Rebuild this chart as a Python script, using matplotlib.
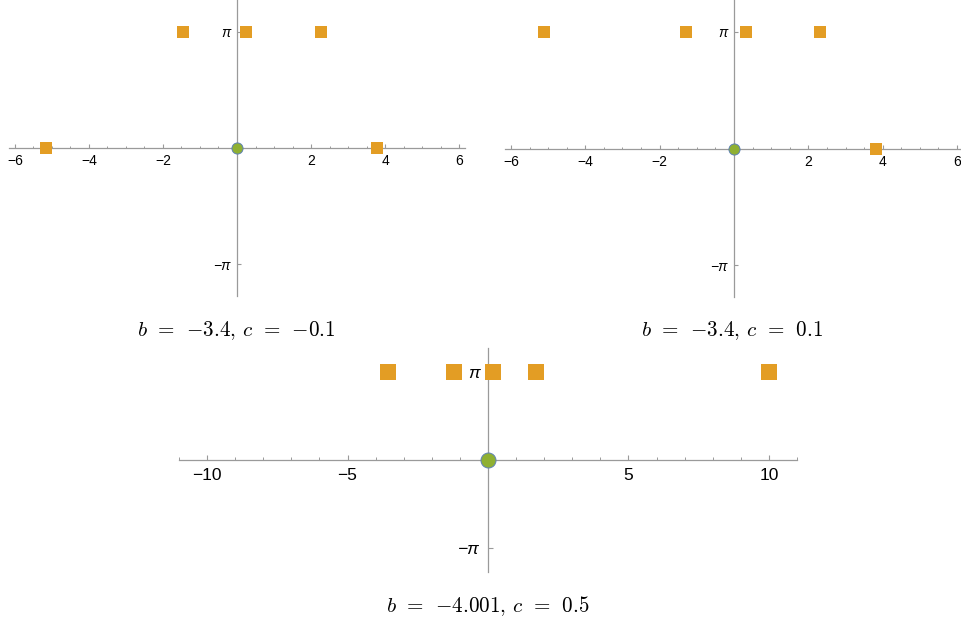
import numpy as np
import matplotlib
matplotlib.use("Agg")
import matplotlib.pyplot as plt
from matplotlib.ticker import MultipleLocator

p1_x = [-5.17, -1.46, 0.24, 2.27, 3.78]
p1_y = [0, np.pi, np.pi, np.pi, 0]
p2_x = [-5.11, -1.30, 0.32, 2.32, 3.83]
p2_y = [np.pi, np.pi, np.pi, np.pi, 0]
p3_x = [-3.56, -1.21, 0.18, 1.70, 10.0]
p3_y = [np.pi, np.pi, np.pi, np.pi, np.pi]
origin_x = [0]
origin_y = [0]

titles = [r"$b\;\,=\;\,{-}3.4,\,c\;\,=\;\,{-}0.1$",
          r"$b\;\,=\;\,{-}3.4,\,c\;\,=\;\,0.1$",
          r"$b\;\,=\;\,{-}4.001,\,c\;\,=\;\,0.5$"]

ORANGE = "#E39D24"
GREEN = "#8FB032"
BLUE = "#5E81B5"
AXCOL = "#9a9a9a"

plt.rcParams['font.family'] = ['Liberation Sans', 'DejaVu Sans']

W, H = 961, 621
fig = plt.figure(figsize=(W / 100, H / 100), dpi=100)


def make_axes(l, r, t, b):
    # pixel box -> figure fraction
    return fig.add_axes([l / W, (H - b) / H, (r - l) / W, (b - t) / H])


def style(ax, xlim, majors, minor, fs, pad, tl, msq, mci, xs, ys):
    ax.set_xlim(xlim)
    ax.set_ylim(-4, 4)
    for s in ["top", "right"]:
        ax.spines[s].set_visible(False)
    for s in ["left", "bottom"]:
        ax.spines[s].set_position(("data", 0))
        ax.spines[s].set_color(AXCOL)
        ax.spines[s].set_linewidth(0.9)
    ax.set_xticks(majors)
    ax.xaxis.set_minor_locator(MultipleLocator(minor))
    ax.set_yticks([-np.pi, np.pi])
    ax.set_yticklabels(["\u2212\u03c0", "\u03c0"], fontstyle="italic")
    ax.tick_params(axis="both", which="major", direction="in", length=tl,
                   width=0.8, color=AXCOL, labelsize=fs, pad=pad)
    ax.tick_params(axis="x", which="minor", direction="in", length=tl * 0.6,
                   width=0.7, color=AXCOL)
    ax.set_facecolor("none")
    ax.plot(origin_x, origin_y, "o", ms=mci, mfc=GREEN, mec=BLUE, mew=0.7,
            clip_on=False, zorder=4)
    ax.plot(xs, ys, "s", ms=msq, color=ORANGE, mew=0, clip_on=False, zorder=5)


ax1 = make_axes(9, 465, 0, 296)
style(ax1, (-6.16, 6.16), [-6, -4, -2, 2, 4, 6], 0.5, 10, 4.5, 3,
      8.9, 8, p1_x, p1_y)

ax2 = make_axes(505, 963, 0, 297)
style(ax2, (-6.16, 6.16), [-6, -4, -2, 2, 4, 6], 0.5, 10, 4.5, 3,
      8.9, 8, p2_x, p2_y)

ax3 = make_axes(179, 797, 348, 572)
style(ax3, (-11, 11), [-10, -5, 5, 10], 1, 12.5, 6, 3.7,
      12, 10.8, p3_x, p3_y)

fig.text(236 / W, (H - 336) / H, titles[0], ha="center", va="baseline",
         fontsize=15.2, math_fontfamily="cm")
fig.text(732 / W, (H - 336) / H, titles[1], ha="center", va="baseline",
         fontsize=15.2, math_fontfamily="cm")
fig.text(488 / W, (H - 612) / H, titles[2], ha="center", va="baseline",
         fontsize=15.2, math_fontfamily="cm")

plt.savefig("out.png", dpi=100)
